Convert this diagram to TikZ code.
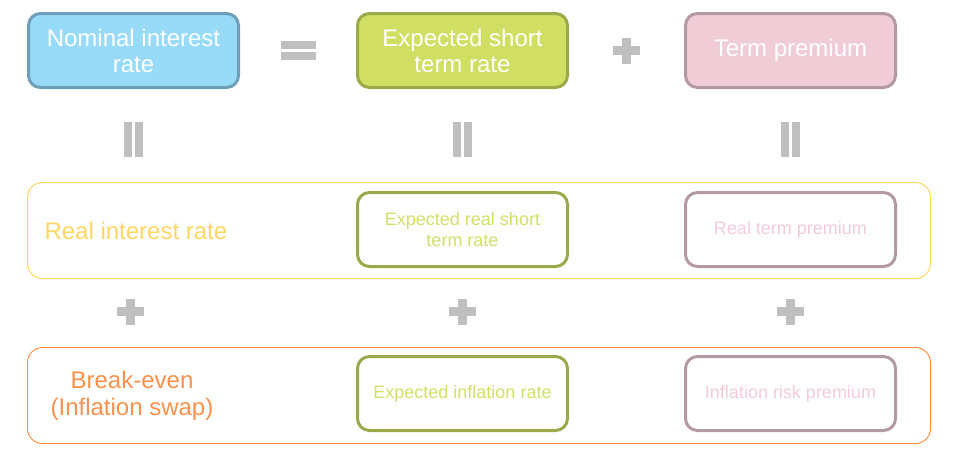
\documentclass[tikz,border=0pt]{standalone}
\usepackage{fontspec}
\setmainfont{Liberation Sans}
\usepackage{tikz}
\usetikzlibrary{positioning, calc}

\definecolor{nomfill}{HTML}{97DBF9}
\definecolor{nomline}{HTML}{6E9FB8}
\definecolor{expfill}{HTML}{D0DF64}
\definecolor{expline}{HTML}{9BA94B}
\definecolor{expfont}{HTML}{D2E06A}
\definecolor{termfill}{HTML}{EFCCD6}
\definecolor{termline}{HTML}{B39AA2}
\definecolor{termfont}{HTML}{F2CDD9}
\definecolor{realline}{HTML}{FDD663}
\definecolor{breakline}{HTML}{F9914D}
\definecolor{symgray}{HTML}{BFBFBF}

\begin{document}
\begin{tikzpicture}[
    x=1pt, y=1pt,
    topbox/.style={rectangle, rounded corners=12pt, draw, line width=3pt, minimum width=210pt, minimum height=74pt, align=center, text=white, font=\fontsize{24}{26}\selectfont},
    innerbox/.style={rectangle, rounded corners=12pt, draw, line width=3pt, fill=white, minimum width=210pt, minimum height=74pt, align=center, font=\fontsize{18}{21}\selectfont},
    band/.style={rectangle, rounded corners=15pt, draw, line width=1pt, minimum width=903pt, minimum height=96pt},
    rowtext/.style={align=center, font=\fontsize{24}{27}\selectfont},
    equalsign/.pic={\fill[symgray] (-17.5,1.2) rectangle (17.5,9.2); \fill[symgray] (-17.5,-1.2) rectangle (17.5,-9.2);},
    vequal/.pic={\fill[symgray] (-9.2,-17.5) rectangle (-1.7,17.5); \fill[symgray] (1.7,-17.5) rectangle (9.2,17.5);},
    plussign/.pic={\fill[symgray] (-13.5,-4.8) rectangle (13.5,4.8); \fill[symgray] (-4.8,-13) rectangle (4.8,13);}
]
\useasboundingbox (0,0) rectangle (978,-467);

% Top row
\node[topbox, fill=nomfill, draw=nomline] (nominal) at (133.5,-50.5) {Nominal interest\\rate};
\node[topbox, fill=expfill, draw=expline, right=116pt of nominal] (expshort) {Expected short\\term rate};
\node[topbox, fill=termfill, draw=termline, right=115pt of expshort] (termprem) {Term premium};

% Bands
\node[band, draw=realline, anchor=north west] (realband) at ([yshift=-93pt]nominal.south west) {};
\node[band, draw=breakline, anchor=north west] (breakband) at ([yshift=-68pt]realband.south west) {};

% Band labels
\node[rowtext, text=realline, anchor=west] (realtext) at ([xshift=14pt]realband.west) {Real interest rate};
\node[rowtext, text=breakline] (breaktext) at ([xshift=105pt]breakband.west) {Break-even\\(Inflation swap)};

% Real row
\node[innerbox, draw=expline, text=expfont, below=102pt of expshort] (expreal) {Expected real short\\term rate};
\node[innerbox, draw=termline, text=termfont, below=102pt of termprem] (termreal) {Real term premium};

% Inflation row
\node[innerbox, draw=expline, text=expfont, below=87pt of expreal] (expinfl) {Expected inflation rate};
\node[innerbox, draw=termline, text=termfont, below=87pt of termreal] (inflrisk) {Inflation risk premium};

% Symbols
\pic at ($(nominal)!0.5!(expshort)$) {equalsign};
\pic at ($(expshort)!0.5!(termprem)$) {plussign};

\pic at ([yshift=-50pt]nominal.south) {vequal};
\pic at ([yshift=-50pt]expshort.south) {vequal};
\pic at ([yshift=-50pt]termprem.south) {vequal};

\pic at ($(realband.south -| nominal)!0.5!(breakband.north -| nominal) + (-3,1.5)$) {plussign};
\pic at ($(realband.south -| expshort)!0.5!(breakband.north -| expshort) + (0,1.5)$) {plussign};
\pic at ($(realband.south -| termprem)!0.5!(breakband.north -| termprem) + (0,1.5)$) {plussign};

\end{tikzpicture}
\end{document}
